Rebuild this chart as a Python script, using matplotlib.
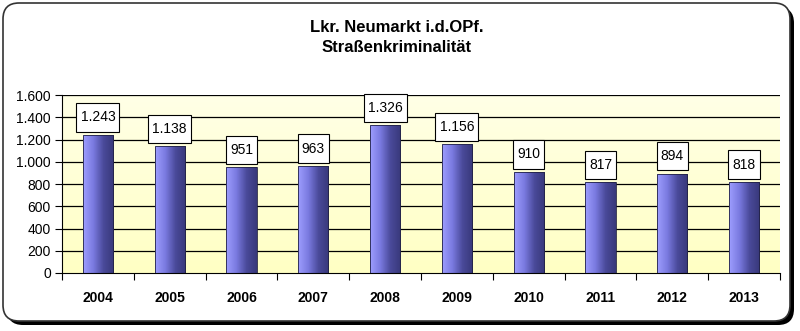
import numpy as np
import matplotlib.pyplot as plt
from matplotlib.patches import FancyBboxPatch
from matplotlib.path import Path
from matplotlib.colors import LinearSegmentedColormap

years = ['2004', '2005', '2006', '2007', '2008', '2009', '2010', '2011', '2012', '2013']
values = [1243, 1138, 951, 963, 1326, 1156, 910, 817, 894, 818]
yticks = [0, 200, 400, 600, 800, 1000, 1200, 1400, 1600]

W, H = 800, 331
fig = plt.figure(figsize=(W / 100, H / 100), dpi=100)
fig.patch.set_facecolor('white')


def tallbox(x0, y0, width, height, mutation_size):
    # label box: a bit taller than the default square box
    px, py = 0.3 * mutation_size, 0.52 * mutation_size
    xa, ya = x0 - px, y0 - py
    xb, yb = x0 + width + px, y0 + height + py
    return Path([(xa, ya), (xb, ya), (xb, yb), (xa, yb), (xa, ya)],
                [Path.MOVETO, Path.LINETO, Path.LINETO, Path.LINETO, Path.CLOSEPOLY])


# frame with shadow
bg = fig.add_axes([0, 0, 1, 1])
bg.set_xlim(0, W)
bg.set_ylim(H, 0)
bg.axis('off')
shadow = FancyBboxPatch((7, 7), 787, 318, boxstyle='round,pad=0,rounding_size=16',
                        fc='black', ec='none')
frame = FancyBboxPatch((3, 3), 787, 318, boxstyle='round,pad=0,rounding_size=16',
                       fc='white', ec='#333333', lw=1.2)
bg.add_patch(shadow)
bg.add_patch(frame)
bg.text(397, 27, 'Lkr. Neumarkt i.d.OPf.', ha='center', va='center',
        fontsize=12, fontweight='bold', family='Liberation Sans')
bg.text(397, 47, 'Straßenkriminalität', ha='center', va='center',
        fontsize=12, fontweight='bold', family='Liberation Sans')

# plot area
x0, x1, ytop, ybot = 62, 780, 95, 273
ax = fig.add_axes([x0 / W, 1 - ybot / H, (x1 - x0) / W, (ybot - ytop) / H])
ax.set_xlim(-0.5, len(years) - 0.5)
ax.set_ylim(0, 1600)

bgcmap = LinearSegmentedColormap.from_list('bgy', ['#FFFFC4', '#FFFFE6'])
ax.imshow(np.linspace(0, 1, 100).reshape(-1, 1), cmap=bgcmap, aspect='auto',
          extent=(-0.5, len(years) - 0.5, 0, 1600), origin='lower', zorder=0)

for t in yticks[1:]:
    ax.axhline(t, color='black', lw=0.9, zorder=1)

barcmap = LinearSegmentedColormap.from_list('bar', ['#9E9EFF', '#7A7AE0', '#4A4A9A', '#38387A'])
grad = np.linspace(0, 1, 100).reshape(1, -1)
bw = 0.42
bars = ax.bar(range(len(years)), values, width=bw, color='none', edgecolor='#222244',
              lw=0.6, zorder=3)
for i, (b, v) in enumerate(zip(bars, values)):
    im = ax.imshow(grad, cmap=barcmap, aspect='auto',
                   extent=(i - bw / 2, i + bw / 2, 0, v), zorder=2)
    im.set_clip_path(b)
    ax.annotate(f'{v:,}'.replace(',', '.'), (i, v), xytext=(0, 12.5), textcoords='offset points',
                ha='center', va='center', fontsize=10, family='Liberation Sans',
                bbox=dict(boxstyle=tallbox, fc='white', ec='black', lw=0.8),
                zorder=5)

ax.set_xlim(-0.5, len(years) - 0.5)
ax.set_ylim(0, 1600)
ax.set_yticks(yticks)
ax.set_yticklabels([f'{t:,}'.replace(',', '.') for t in yticks], fontsize=10,
                   family='Liberation Sans')
ax.set_xticks(np.arange(len(years) + 1) - 0.5)
ax.set_xticklabels([])
ax.set_xticks(range(len(years)), minor=True)
ax.set_xticklabels(years, minor=True, fontsize=10, fontweight='bold', family='Liberation Sans')
ax.tick_params(axis='x', which='minor', length=0, pad=13)
ax.tick_params(axis='x', which='major', direction='out', length=5)
ax.tick_params(axis='y', direction='out', length=5, pad=3)
for s in ['top', 'right']:
    ax.spines[s].set_visible(False)
ax.spines['left'].set_color('black')
ax.spines['bottom'].set_color('black')

fig.savefig('out.png', dpi=100)
